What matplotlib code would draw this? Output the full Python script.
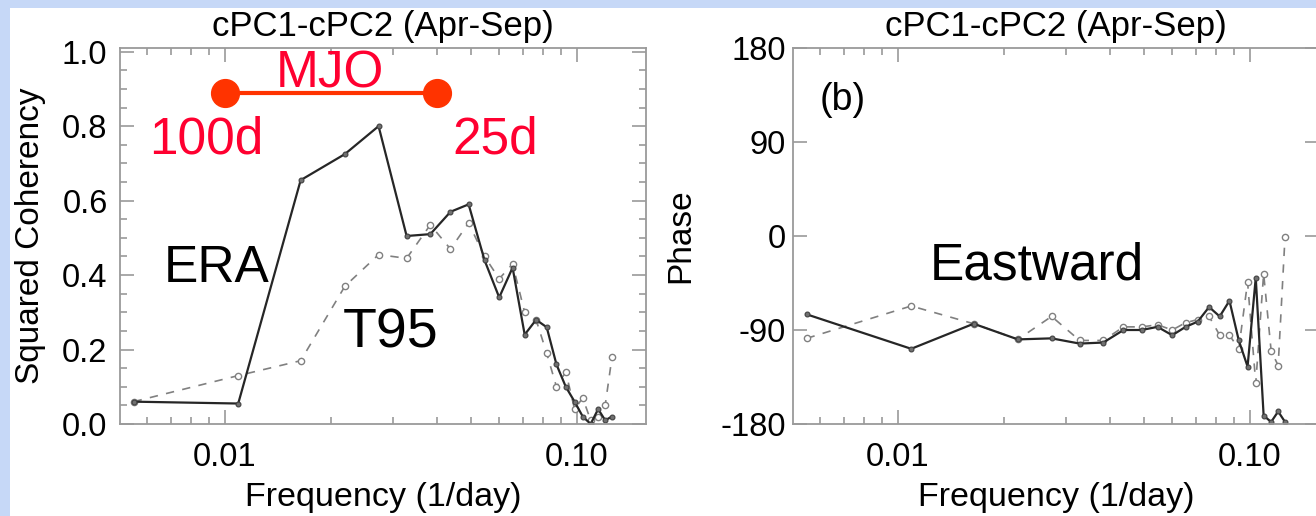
import matplotlib
matplotlib.use('Agg')
import matplotlib.pyplot as plt
from matplotlib.patches import Rectangle
from matplotlib.ticker import FixedLocator, LogLocator, MultipleLocator, NullFormatter

W, H = 1316, 516

# spectral frequencies (1/day)
freq = [0.0055, 0.0109, 0.0164, 0.0219, 0.0273, 0.0328, 0.0383, 0.0437, 0.0492,
        0.0546, 0.0601, 0.0656, 0.0710, 0.0765, 0.0820, 0.0874, 0.0929, 0.0984,
        0.1038, 0.1093, 0.1148, 0.1202, 0.1257]

# (a) squared coherency
era_coh = [0.06, 0.055, 0.655, 0.725, 0.80, 0.505, 0.51, 0.57, 0.59,
           0.44, 0.34, 0.42, 0.24, 0.28, 0.26, 0.16, 0.10, 0.06,
           0.02, 0.00, 0.04, 0.01, 0.02]
t95_coh = [0.06, 0.13, 0.17, 0.37, 0.455, 0.445, 0.535, 0.47, 0.54,
           0.45, 0.39, 0.43, 0.30, 0.28, 0.19, 0.10, 0.14, 0.04,
           0.07, 0.01, 0.02, 0.05, 0.18]

# (b) phase (degrees)
era_phase = [-75, -108, -84, -99, -98, -103, -102, -90, -90,
             -87, -95, -87, -82, -68, -77, -62, -100, -125,
             -40, -172, -178, -168, -178]
t95_phase = [-98, -67, -84, -99, -77, -100, -100, -87, -87,
             -85, -90, -83, -80, -77, -95, -95, -108, -44,
             -141, -36, -110, -124, -1]

# MJO band marker: 100 days to 25 days
mjo_freq = [0.01, 0.04]
mjo_level = [0.89, 0.89]

title = 'cPC1-cPC2 (Apr-Sep)'
xlab = 'Frequency (1/day)'

plt.rcParams['font.family'] = ['Liberation Sans', 'DejaVu Sans']

BLUE = '#c6d8f7'
AXC = '#9a9a9a'
RED_TXT = '#ff0030'
RED_LN = '#ff3300'


def px(x, y):
    # pixel position (from top-left) -> figure fraction
    return x / W, 1 - y / H


fig = plt.figure(figsize=(W / 100, H / 100), dpi=100)
fig.patch.set_facecolor(BLUE)
fig.add_artist(Rectangle((10 / W, 0), 1, 1 - 8 / H, transform=fig.transFigure,
                         facecolor='white', edgecolor='none', zorder=0))

ax_top, ax_bot = 48, 424
axw = 526
ax1 = fig.add_axes([120 / W, 1 - ax_bot / H, axw / W, (ax_bot - ax_top) / H])
ax2 = fig.add_axes([793 / W, 1 - ax_bot / H, axw / W, (ax_bot - ax_top) / H])


def style(ax):
    ax.set_xscale('log')
    ax.set_xlim(0.00503, 0.157)
    ax.xaxis.set_major_locator(FixedLocator([0.01, 0.1]))
    ax.set_xticklabels(['0.01', '0.10'])
    ax.xaxis.set_minor_locator(LogLocator(base=10, subs=range(2, 10)))
    ax.xaxis.set_minor_formatter(NullFormatter())
    for s in ax.spines.values():
        s.set_color(AXC)
        s.set_linewidth(1.3)
    ax.tick_params(which='both', direction='in', top=True, right=True, color=AXC,
                   labelsize=23.5, width=1.2)
    ax.tick_params(which='major', length=10)
    ax.tick_params(which='minor', length=5)
    ax.tick_params(axis='x', pad=13)
    ax.text(0.5, (ax_bot - 36) / (ax_bot - ax_top), title, transform=ax.transAxes,
            ha='center', va='baseline', fontsize=25)
    ax.set_xlabel(xlab, fontsize=24.5)
    ax.xaxis.set_label_coords(0.5, -(482 - ax_bot) / (ax_bot - ax_top))


def draw_pair(ax, t95, era):
    ax.plot(freq, t95, color='#808080', lw=1.2, dashes=(5, 5), marker='o', ms=4.5,
            mfc='white', mec='#808080', mew=1.0)
    ax.plot(freq, era, color='#262626', lw=1.6, marker='o', ms=3.5,
            mfc='#707070', mec='#404040', mew=0.8)


style(ax1)
style(ax2)

# panel (a)
draw_pair(ax1, t95_coh, era_coh)
ax1.set_ylim(0, 1.01)
ax1.yaxis.set_major_locator(MultipleLocator(0.2))
ax1.yaxis.set_minor_locator(MultipleLocator(0.05))
ax1.set_yticklabels([f'{v:.1f}' for v in ax1.get_yticks()])
ax1.tick_params(axis='y', pad=9)
ax1.set_ylabel('Squared Coherency', fontsize=24)
ax1.yaxis.set_label_coords(-(120 - 46) / axw, 0.5)

ax1.plot(mjo_freq, mjo_level, color=RED_LN, lw=3, marker='o', ms=20,
         mfc=RED_LN, mec=RED_LN, clip_on=False)

# panel (b)
draw_pair(ax2, t95_phase, era_phase)
ax2.set_ylim(-180, 180)
ax2.yaxis.set_major_locator(FixedLocator([-180, -90, 0, 90, 180]))
ax2.set_yticklabels(['-180', '-90', '0', '90', '180'])
ax2.tick_params(axis='y', pad=5)
ax2.set_ylabel('Phase', fontsize=24)
ax2.yaxis.set_label_coords(-(793 - 696) / axw, 0.5)

# annotations
fig.text(*px(330, 88), 'MJO', color=RED_TXT, fontsize=37, ha='center', va='baseline')
fig.text(*px(149, 153), '100d', color=RED_TXT, fontsize=37, ha='left', va='baseline')
fig.text(*px(452, 153), '25d', color=RED_TXT, fontsize=37, ha='left', va='baseline')
fig.text(*px(164, 282), 'ERA', color='black', fontsize=37, ha='left', va='baseline')
fig.text(*px(343, 347), 'T95', color='black', fontsize=40, ha='left', va='baseline')
fig.text(*px(930, 280), 'Eastward', color='black', fontsize=37, ha='left', va='baseline')
fig.text(*px(820, 110), '(b)', color='black', fontsize=27, ha='left', va='baseline')

fig.savefig('out.png', dpi=100, facecolor=fig.get_facecolor())
